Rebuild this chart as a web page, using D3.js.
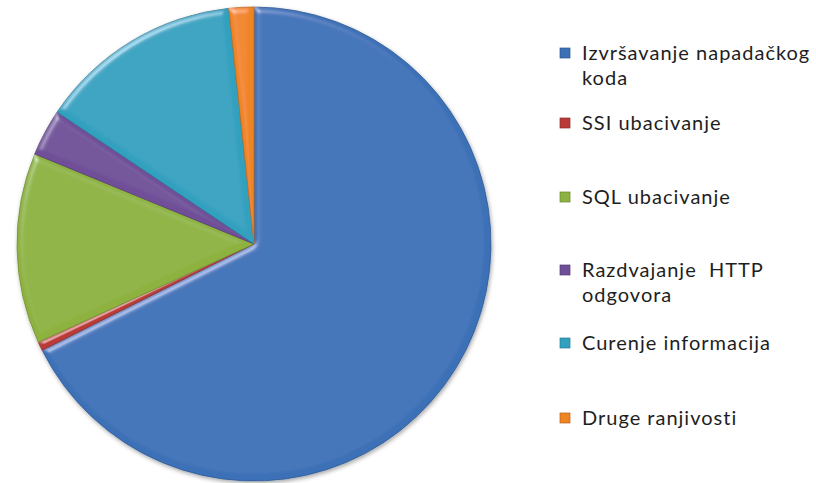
<!DOCTYPE html>
<html>
<head>
<meta charset="utf-8">
<script src="https://cdn.jsdelivr.net/npm/d3@7"></script>
<style>
  html, body { margin: 0; padding: 0; background: #fff; }
  svg { display: block; }
</style>
</head>
<body>
<div id="chart"></div>
<script>
// podaci
const categories = [
  "Izvršavanje napadačkog koda",
  "SSI ubacivanje",
  "SQL ubacivanje",
  "Razdvajanje  HTTP odgovora",
  "Curenje informacija",
  "Druge ranjivosti"
];
const values = [67.6, 0.6, 13.0, 3.2, 13.9, 1.7];
const legendLines = [
  ["Izvršavanje napadačkog", "koda"],
  ["SSI ubacivanje"],
  ["SQL ubacivanje"],
  ["Razdvajanje  HTTP", "odgovora"],
  ["Curenje informacija"],
  ["Druge ranjivosti"]
];
const colors = ["#3c71b7", "#b83b38", "#8db23f", "#6f4f98", "#32a1bf", "#ef8423"];

const width = 816, height = 483;
const cx = 254, cy = 244, radius = 237;

const svg = d3.select("#chart").append("svg")
  .attr("width", width)
  .attr("height", height);

const defs = svg.append("defs");

// blagi sjenčani rub oko kruga
const shadow = defs.append("filter").attr("id", "shadow")
  .attr("x", "-10%").attr("y", "-10%").attr("width", "120%").attr("height", "120%");
shadow.append("feDropShadow")
  .attr("dx", 1).attr("dy", 2).attr("stdDeviation", 2)
  .attr("flood-color", "#000").attr("flood-opacity", 0.35);

// "bevel" efekt na svakom isječku
const bevel = defs.append("filter").attr("id", "bevel")
  .attr("x", "-5%").attr("y", "-5%").attr("width", "110%").attr("height", "110%");
bevel.append("feGaussianBlur").attr("in", "SourceAlpha").attr("stdDeviation", 3).attr("result", "blur");
bevel.append("feSpecularLighting")
  .attr("in", "blur").attr("surfaceScale", 4).attr("specularConstant", 0.6)
  .attr("specularExponent", 25).attr("lighting-color", "#ffffff").attr("result", "spec")
  .append("feDistantLight").attr("azimuth", 235).attr("elevation", 35);
bevel.append("feComposite").attr("in", "spec").attr("in2", "SourceAlpha")
  .attr("operator", "in").attr("result", "specOut");
bevel.append("feComposite").attr("in", "SourceGraphic").attr("in2", "specOut")
  .attr("operator", "arithmetic").attr("k1", 0).attr("k2", 1).attr("k3", 0.6).attr("k4", 0);

const pie = d3.pie().sort(null).value(d => d)(values);
const arc = d3.arc().innerRadius(0).outerRadius(radius);

const g = svg.append("g")
  .attr("transform", `translate(${cx},${cy})`)
  .attr("filter", "url(#shadow)");

g.selectAll("path.slice")
  .data(pie)
  .join("path")
  .attr("class", "slice")
  .attr("d", arc)
  .attr("fill", (d, i) => colors[i])
  .attr("stroke", (d, i) => d3.color(colors[i]).darker(0.6))
  .attr("stroke-width", 0.8)
  .attr("filter", "url(#bevel)");

// legenda
const legendRows = [53, 123, 197, 270, 343, 418];
const lineH = 25;

const legend = svg.append("g").attr("class", "legend");
const item = legend.selectAll("g.item")
  .data(categories)
  .join("g")
  .attr("class", "item")
  .attr("transform", (d, i) => `translate(560,${legendRows[i]})`);

item.append("rect")
  .attr("x", 0).attr("y", -5)
  .attr("width", 10).attr("height", 10)
  .attr("fill", (d, i) => colors[i])
  .attr("stroke", (d, i) => d3.color(colors[i]).darker(0.8))
  .attr("stroke-width", 0.7);

item.each(function(d, i) {
  const t = d3.select(this).append("text")
    .attr("font-family", "Lato, 'Open Sans', sans-serif")
    .attr("font-size", 20)
    .attr("letter-spacing", 1)
    .attr("fill", "#1e1e1e")
    .style("white-space", "pre");
  legendLines[i].forEach((line, k) => {
    t.append("tspan").attr("x", 22).attr("y", k * lineH).attr("dy", "0.35em").text(line);
  });
});
</script>
</body>
</html>
